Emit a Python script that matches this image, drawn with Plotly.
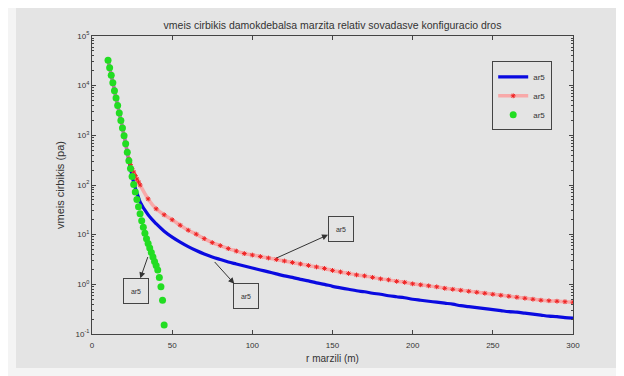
import plotly.graph_objects as go

# ---------------- data (values are log10 of pressure) ----
x_main = [10, 11, 12, 13, 14, 15, 16, 17, 18, 19, 20, 21, 22, 23, 24, 25, 26, 27, 28, 29, 30,
          35, 40, 45, 50, 55, 60, 65, 70, 75, 80, 85, 90, 95, 100, 105, 110, 115, 120, 125,
          130, 135, 140, 145, 150, 155, 160, 165, 170, 175, 180, 185, 190, 195, 200, 205,
          210, 215, 220, 225, 230, 235, 240, 245, 250, 255, 260, 265, 270, 275, 280, 285,
          290, 295, 300]

blue_log10 = [4.51, 4.36, 4.21, 4.06, 3.90, 3.75, 3.60, 3.45, 3.30, 3.15, 2.99, 2.83, 2.66, 2.49,
              2.33, 2.18, 2.05, 1.94, 1.84, 1.75, 1.66,
              1.40, 1.22, 1.07, 0.95, 0.85, 0.76, 0.68, 0.61, 0.55, 0.50, 0.45, 0.41, 0.37, 0.33,
              0.29, 0.25, 0.21, 0.17, 0.14, 0.10, 0.07, 0.03, 0.00, -0.04, -0.07, -0.10, -0.13,
              -0.15, -0.18, -0.20, -0.23, -0.25, -0.27, -0.30, -0.32, -0.34, -0.36, -0.38, -0.40,
              -0.43, -0.45, -0.47, -0.49, -0.51, -0.53, -0.55, -0.56, -0.58, -0.60, -0.62, -0.64,
              -0.65, -0.67, -0.68]

red_log10 = [4.51, 4.36, 4.21, 4.06, 3.90, 3.75, 3.60, 3.45, 3.30, 3.15, 2.99, 2.83, 2.66, 2.52,
             2.41, 2.33, 2.26, 2.19, 2.12, 2.06, 2.00,
             1.72, 1.52, 1.40, 1.30, 1.19, 1.09, 1.01, 0.92, 0.84, 0.78, 0.72, 0.67, 0.62, 0.59,
             0.56, 0.53, 0.50, 0.47, 0.44, 0.41, 0.38, 0.35, 0.32, 0.28, 0.25, 0.22, 0.19, 0.17,
             0.14, 0.11, 0.09, 0.06, 0.04, 0.01, -0.01, -0.03, -0.05, -0.08, -0.10, -0.12, -0.14,
             -0.16, -0.18, -0.20, -0.22, -0.24, -0.26, -0.28, -0.30, -0.32, -0.33, -0.34, -0.35,
             -0.36]

x_green = list(range(10, 46))
green_log10 = [4.51, 4.36, 4.21, 4.06, 3.90, 3.75, 3.60, 3.45, 3.30, 3.15, 2.99, 2.83, 2.66, 2.49,
               2.33, 2.17, 2.01, 1.86, 1.71, 1.56, 1.42, 1.28, 1.15, 1.03, 0.92, 0.82, 0.73,
               0.64, 0.55, 0.46, 0.38, 0.29, 0.14, -0.05, -0.32, -0.82]

series_names = ["ar5", "ar5", "ar5"]
title_text = "vmeis cirbikis damokdebalsa marzita relativ sovadasve konfiguracio dros"
x_title = "r marzili (m)"
y_title = "vmeis cirbikis (pa)"
x_ticks = [0, 50, 100, 150, 200, 250, 300]
y_tick_exponents = [-1, 0, 1, 2, 3, 4, 5]

# callouts: (point on curve x, log10 y, box centre x, log10 y, label)
callouts = [
    (34.8, 0.55, 27.4, -0.13, "ar5"),
    (76.5, 0.45, 95.8, -0.24, "ar5"),
    (115.1, 0.53, 155.0, 1.11, "ar5"),
]

blue_vals = [10 ** v for v in blue_log10]
red_vals = [10 ** v for v in red_log10]
green_vals = [10 ** v for v in green_log10]
y_tickvals = [10 ** e for e in y_tick_exponents]
y_ticktext = ["10<sup>%d</sup>" % e for e in y_tick_exponents]

FONT = "Liberation Sans, Arial, sans-serif"
GRAY = "#e4e4e4"

fig = go.Figure()
fig.add_trace(go.Scatter(x=x_main, y=blue_vals, mode="lines", name=series_names[0],
                         line=dict(color="#0a0ae0", width=3.2, shape="spline")))
fig.add_trace(go.Scatter(x=x_main, y=red_vals, mode="lines+markers", name=series_names[1],
                         line=dict(color="rgba(255,150,150,0.75)", width=3.5, shape="spline"),
                         marker=dict(symbol="asterisk-open", size=4, color="#ee2222",
                                     line=dict(color="#ee2222", width=1))))
fig.add_trace(go.Scatter(x=x_green, y=green_vals, mode="markers", name=series_names[2],
                         marker=dict(symbol="circle", size=7, color="#22dd22",
                                     line=dict(width=0))))

for px_, py_, bx, by, lab in callouts:
    fig.add_annotation(x=px_, y=py_, ax=bx, ay=by, xref="x", yref="y", axref="x", ayref="y",
                       text=lab, showarrow=True, arrowside="start", arrowhead=2,
                       startarrowhead=2, startarrowsize=1.2, arrowsize=1.2, arrowwidth=1,
                       arrowcolor="#333333", standoff=0, startstandoff=0,
                       font=dict(family=FONT, size=7, color="#333333"),
                       bordercolor="#444444", borderwidth=1, borderpad=0,
                       width=24, height=24, bgcolor=GRAY)

# outer panel
fig.add_shape(type="rect", xref="paper", yref="paper", x0=-0.158, x1=1.094, y0=-0.114, y1=1.1,
              fillcolor=GRAY, line=dict(width=0), layer="below")

fig.update_layout(
    width=616, height=368,
    margin=dict(l=84, r=51, t=28, b=42),
    paper_bgcolor="#f4f4f4", plot_bgcolor=GRAY,
    font=dict(family=FONT, size=8, color="#333333"),
    title=dict(text=title_text, xref="paper", x=0.5, xanchor="center", y=0.953,
               yanchor="middle", font=dict(size=10.5, color="#333333")),
    showlegend=True,
    legend=dict(x=0.832, y=0.915, xanchor="left", yanchor="top",
                bgcolor=GRAY, bordercolor="#444444", borderwidth=1, itemwidth=30,
                font=dict(size=8, color="#333333"), tracegroupgap=0),
)
fig.update_xaxes(range=[0, 300], tickvals=x_ticks, ticks="inside", ticklen=4,
                 showline=True, linecolor="#444444", linewidth=1, mirror="ticks",
                 showgrid=False, zeroline=False, ticklabelstandoff=3,
                 title=dict(text=x_title, standoff=6, font=dict(size=10)),
                 tickfont=dict(size=8))
fig.update_yaxes(type="log", range=[-1, 5], tickvals=y_tickvals, ticktext=y_ticktext,
                 ticks="inside", ticklen=4, showline=True, linecolor="#444444", linewidth=1,
                 mirror="ticks", showgrid=False, zeroline=False,
                 minor=dict(ticks="inside", ticklen=2, tickcolor="#444444", showgrid=False,
                            dtick="D1"),
                 title=dict(text=y_title, standoff=8, font=dict(size=11)),
                 tickfont=dict(size=8))

fig.write_html("out.html")
